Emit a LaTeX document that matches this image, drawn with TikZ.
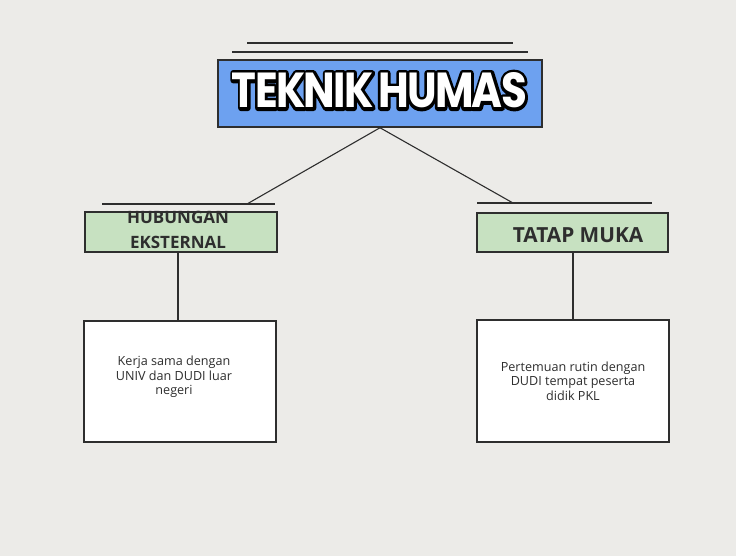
\documentclass[tikz,border=0pt]{standalone}
\usepackage{fontspec}
\usetikzlibrary{calc}
\setmainfont{Open Sans}
\newfontfamily\titlefont{Poppins}[LetterSpace=-4.0, WordSpace=0.6]
\definecolor{paper}{HTML}{ECEBE8}
\definecolor{bluefill}{HTML}{6DA1F0}
\definecolor{greenfill}{HTML}{C7E1C1}
\definecolor{ink}{HTML}{2E2E2E}
\tikzset{
  edge/.style={draw=ink, line width=1.1pt},
  bar/.style={draw=ink, line width=1.4pt},
  framebox/.style={draw=ink, line width=1.5pt},
  headtext/.style={font=\bfseries\fontsize{17}{25}\selectfont, text=ink, align=center, inner sep=0pt},
  bodytext/.style={font=\fontsize{12.6}{14.5}\selectfont, text=ink, align=center, inner sep=0pt},
}
\def\ttlraw{\titlefont\bfseries TEKNIK HUMAS}
\def\ttl{\resizebox{295pt}{35pt}{%
  \makebox[0pt][l]{\color{black}\special{pdf:literal direct 2 Tr 1.3 w 1 j}\ttlraw\special{pdf:literal direct 0 Tr 0.4 w}}%
  \color{white}\ttlraw}}
\begin{document}
\begin{tikzpicture}[x=1pt,y=-1pt]
\fill[paper] (0,0) rectangle (736,556);
\useasboundingbox (0,0) rectangle (736,556);
% top decoration lines
\coordinate (a1) at (247,43); \coordinate (a2) at (513,43);
\coordinate (b1) at (232,52); \coordinate (b2) at (528,52);
\draw[bar] (a1) -- (a2);
\draw[bar] (b1) -- (b2);
% title box
\node[framebox, fill=bluefill, minimum width=324pt, minimum height=67pt, inner sep=0pt] (title) at (380,93.5) {};
\node[inner sep=0pt] (ttext) at (379.5,90.5) {\ttl};
% branch bars
\coordinate (l1) at (102,204); \coordinate (l2) at (275,204);
\coordinate (r1) at (477,203); \coordinate (r2) at (652,203);
\coordinate (lj) at (247,204); \coordinate (rj) at (513,203);
\draw[bar] (l1) -- (l2);
\draw[bar] (r1) -- (r2);
\draw[edge] (title.south) -- (lj);
\draw[edge] (title.south) -- (rj);
% green boxes
\node[framebox, fill=greenfill, minimum width=192pt, minimum height=40pt, inner sep=0pt] (hub) at (181,232) {};
\node[headtext] (hubt) at (178,230) {HUBUNGAN\\EKSTERNAL};
\node[framebox, fill=greenfill, minimum width=191pt, minimum height=39pt, inner sep=0pt] (tat) at (572.5,232.5) {};
\node[headtext, font=\bfseries\fontsize{20.8}{25}\selectfont] (tatt) at (578,235) {TATAP MUKA};
% white boxes
\node[framebox, fill=white, minimum width=192pt, minimum height=121pt, inner sep=0pt] (kb) at (180,381.5) {};
\node[bodytext] (kbt) at (174,377) {Kerja sama dengan\\UNIV dan DUDI luar\\negeri};
\node[framebox, fill=white, minimum width=192pt, minimum height=122pt, inner sep=0pt] (pb) at (573,381) {};
\node[bodytext] (pbt) at (573,381) {Pertemuan rutin dengan\\DUDI tempat peserta\\didik PKL};
% vertical connectors
\draw[edge] (hub.south -| 178,0) -- (kb.north -| 178,0);
\draw[edge] (tat.south -| 573,0) -- (pb.north -| 573,0);
\end{tikzpicture}
\end{document}
